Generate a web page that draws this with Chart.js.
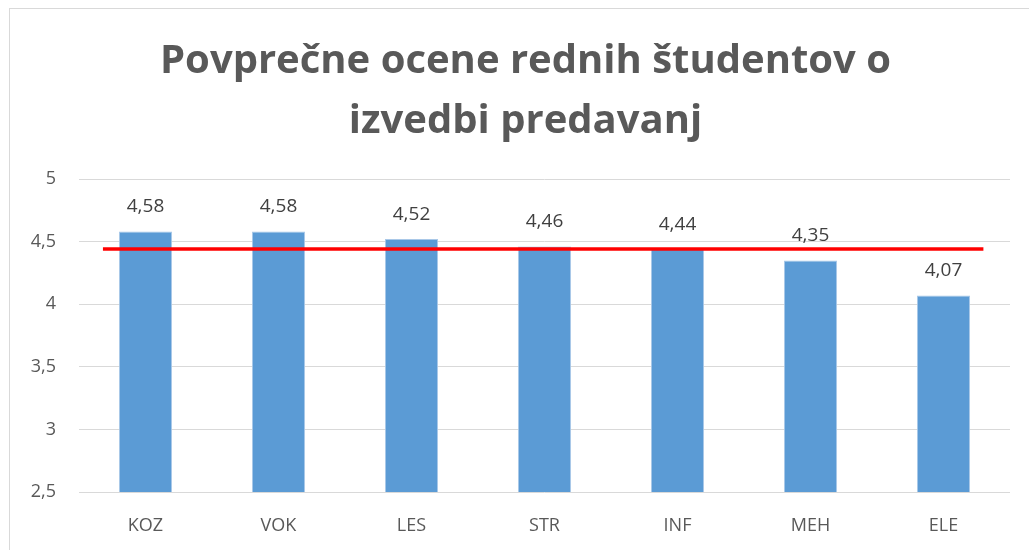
<!DOCTYPE html>
<html>
<head>
<meta charset="utf-8">
<script src="https://cdn.jsdelivr.net/npm/chart.js@4.4.0/dist/chart.umd.min.js"></script>
<style>
  html, body { margin: 0; padding: 0; background: #ffffff; }
  #wrap { position: relative; width: 1029px; height: 550px; overflow: hidden; }
  #frame { position: absolute; left: 9px; top: 8px; width: 1100px; height: 600px; border: 1px solid #d9d9d9; box-sizing: border-box; }
  canvas { position: absolute; left: 0; top: 0; }
</style>
</head>
<body>
<div id="wrap">
  <div id="frame"></div>
  <canvas id="c" width="1029" height="550"></canvas>
</div>
<script>
const titleLines = ["Povprečne ocene rednih študentov o", "izvedbi predavanj"];
const categories = ["KOZ", "VOK", "LES", "STR", "INF", "MEH", "ELE"];
const scores = [4.58, 4.58, 4.52, 4.46, 4.44, 4.35, 4.07];
const averageValue = 4.44;
const averageLineSpan = [-0.32, 6.3];
const yTicks = [2.5, 3, 3.5, 4, 4.5, 5];

const fmt = v => String(v).replace('.', ',');

const dataLabels = {
  id: 'dataLabels',
  afterDatasetsDraw(chart) {
    const ctx = chart.ctx;
    const meta = chart.getDatasetMeta(0);
    ctx.save();
    ctx.font = '19px "Open Sans"';
    ctx.fillStyle = '#404040';
    ctx.textAlign = 'center';
    ctx.textBaseline = 'middle';
    meta.data.forEach((bar, i) => {
      ctx.fillText(scores[i].toFixed(2).replace('.', ','), bar.x, bar.y - 25);
    });
    ctx.restore();
  }
};

const titleShift = {
  id: 'titleShift',
  afterLayout(chart) {
    const t = chart.titleBlock;
    if (t) { t.left += 16; t.right += 16; }
  }
};

new Chart(document.getElementById('c'), {
  type: 'bar',
  data: {
    labels: categories,
    datasets: [
      {
        type: 'bar',
        data: scores,
        backgroundColor: '#5b9bd5',
        borderColor: '#a9c8e8',
        borderWidth: 1,
        barPercentage: 0.4,
        categoryPercentage: 1.0,
        grouped: false,
        order: 2
      },
      {
        type: 'line',
        data: averageLineSpan.map(x => ({ x: x, y: averageValue })),
        xAxisID: 'x2',
        borderColor: '#ff0000',
        borderWidth: 3.5,
        pointRadius: 0,
        fill: false,
        order: 1
      }
    ]
  },
  options: {
    responsive: false,
    animation: false,
    layout: { padding: { left: 9, right: 19, top: 0, bottom: 14 } },
    plugins: {
      legend: { display: false },
      tooltip: { enabled: false },
      title: {
        display: true,
        text: titleLines,
        color: '#595959',
        font: { family: '"Open Sans"', size: 40, weight: 'bold', lineHeight: 1.5 },
        padding: { top: 32, bottom: 27 }
      }
    },
    scales: {
      x: {
        type: 'category',
        offset: true,
        grid: { display: false },
        border: { display: false },
        ticks: { color: '#595959', font: { family: '"Open Sans"', size: 18 }, padding: 15 },
        afterFit(s) { s.height = 44; }
      },
      x2: {
        type: 'linear',
        display: false,
        offset: false,
        grid: { offset: false },
        min: -0.5,
        max: 6.5
      },
      y: {
        min: 2.5,
        max: 5,
        afterBuildTicks(s) { s.ticks = yTicks.map(v => ({ value: v })); },
        grid: { color: '#d9d9d9', lineWidth: 1, drawTicks: false },
        border: { display: false },
        ticks: {
          color: '#595959',
          font: { family: '"Open Sans"', size: 18 },
          padding: 23,
          callback: v => fmt(v)
        },
        afterFit(s) { s.width = 70; }
      }
    }
  },
  plugins: [dataLabels, titleShift]
});
</script>
</body>
</html>
